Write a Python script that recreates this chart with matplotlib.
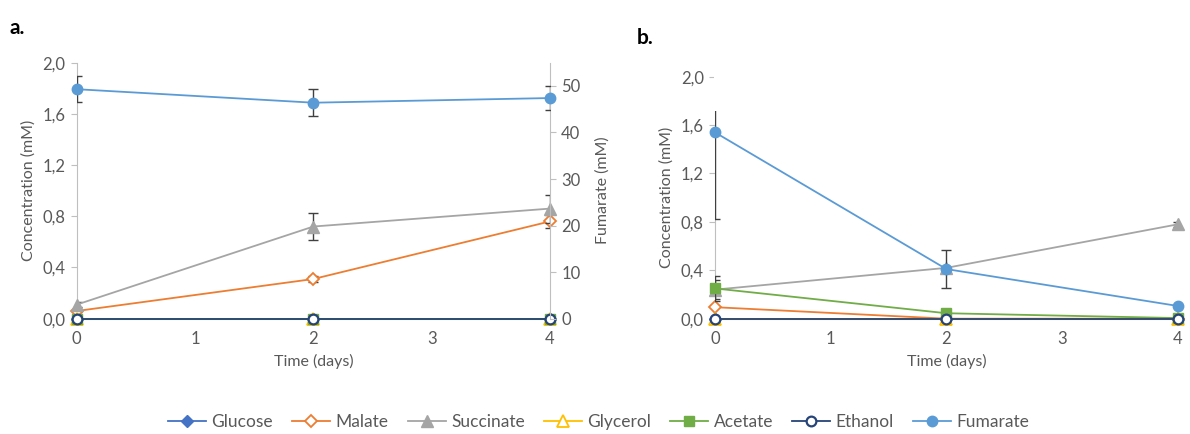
import matplotlib
matplotlib.use("Agg")
import matplotlib.pyplot as plt
from matplotlib.patches import Rectangle

plt.rcParams['font.family'] = ['Lato', 'DejaVu Sans']

days = [0, 2, 4]
series_names = ["Glucose", "Malate", "Succinate", "Glycerol", "Acetate", "Ethanol", "Fumarate"]

# Panel a (Fumarate on secondary axis)
a_glucose = [0.0, 0.0, 0.0]
a_malate = [0.06, 0.31, 0.76]
a_malate_err = [0.01, 0.02, 0.05]
a_succinate = [0.11, 0.72, 0.86]
a_succinate_err = [0.02, 0.105, 0.11]
a_glycerol = [0.0, 0.0, 0.0]
a_acetate = [0.0, 0.0, 0.0]
a_ethanol = [0.0, 0.0, 0.0]
a_fumarate = [49.3, 46.4, 47.4]
a_fumarate_err = [2.8, 2.9, 2.6]

# Panel b
b_glucose = [0.0, 0.0, 0.0]
b_malate = [0.095, 0.0, 0.0]
b_succinate = [0.24, 0.42, 0.78]
b_succinate_err = [0.08, 0.0, 0.02]
b_glycerol = [0.0, 0.0, 0.0]
b_acetate = [0.25, 0.045, 0.005]
b_acetate_err = [0.1, 0.0, 0.0]
b_ethanol = [0.0, 0.0, 0.0]
b_fumarate = [1.54, 0.41, 0.105]
b_fumarate_err = [0.72, 0.155, 0.0]

x_ticks = [0, 1, 2, 3, 4]
left_ticks = [0.0, 0.4, 0.8, 1.2, 1.6, 2.0]
right_ticks = [0, 10, 20, 30, 40, 50]

styles = {
    "Glucose": dict(color="#4472C4", marker="D", mfc="#4472C4", mec="#4472C4", ms=6),
    "Malate": dict(color="#ED7D31", marker="D", mfc="white", mec="#ED7D31", ms=6, mew=1.3),
    "Succinate": dict(color="#A5A5A5", marker="^", mfc="#A5A5A5", mec="#A5A5A5", ms=9),
    "Glycerol": dict(color="#FFC000", marker="^", mfc="white", mec="#FFC000", ms=8, mew=1.3),
    "Acetate": dict(color="#70AD47", marker="s", mfc="#70AD47", mec="#70AD47", ms=7),
    "Ethanol": dict(color="#264478", marker="o", mfc="white", mec="#264478", ms=7, mew=1.6),
    "Fumarate": dict(color="#5B9BD5", marker="o", mfc="#5B9BD5", mec="#5B9BD5", ms=7.5),
}

ERR_COLOR = "#404040"
TICK_COLOR = "#595959"
AXIS_COLOR = "#BFBFBF"
TICK_FS = 12
LABEL_FS = 11.5

fig = plt.figure(figsize=(11.9, 4.34), dpi=100)
ax_a = fig.add_axes([0.0645, 0.2657, 0.3977, 0.5899])
ax_b = fig.add_axes([0.6008, 0.2657, 0.389, 0.5576])


def plot_series(ax, name, y, err=None, z=3):
    st = dict(styles[name])
    color = st.pop("color")
    ax.plot(days, y, color=color, lw=1.3, clip_on=False, zorder=z, label=name, **st)
    if err is not None:
        ax.errorbar(days, y, yerr=err, fmt="none", ecolor=ERR_COLOR, elinewidth=1.0,
                    capsize=3.5, capthick=1.0, zorder=z - 0.5)


def style_axis(ax, ylim, yticks, labels):
    ax.set_xlim(0, 4)
    ax.set_ylim(*ylim)
    ax.set_xticks(x_ticks)
    ax.set_xticklabels([str(t) for t in x_ticks])
    ax.set_yticks(yticks)
    ax.set_yticklabels(labels)
    for s in ["top", "right"]:
        ax.spines[s].set_visible(False)
    ax.spines["left"].set_color(AXIS_COLOR)
    ax.spines["bottom"].set_color(AXIS_COLOR)
    ax.tick_params(axis="x", length=0, pad=9, labelsize=TICK_FS, labelcolor=TICK_COLOR)
    ax.tick_params(axis="y", length=4, color=AXIS_COLOR, pad=4, labelsize=TICK_FS, labelcolor=TICK_COLOR)
    ax.set_xlabel("Time (days)", fontsize=LABEL_FS, color=TICK_COLOR, labelpad=5)
    ax.set_ylabel("Concentration (mM)", fontsize=LABEL_FS, color=TICK_COLOR, labelpad=5)
    ax.patch.set_alpha(0)


left_labels = [f"{v:.1f}".replace(".", ",") for v in left_ticks]

# Panel a
style_axis(ax_a, (0, 2.0), left_ticks, left_labels)
plot_series(ax_a, "Glucose", a_glucose, z=3)
plot_series(ax_a, "Malate", a_malate, a_malate_err, z=4)
plot_series(ax_a, "Succinate", a_succinate, a_succinate_err, z=5)
plot_series(ax_a, "Glycerol", a_glycerol, z=6)
plot_series(ax_a, "Acetate", a_acetate, z=7)
plot_series(ax_a, "Ethanol", a_ethanol, z=8)

ax_a2 = ax_a.twinx()
ax_a2.set_ylim(0, 55)
ax_a2.set_yticks(right_ticks)
ax_a2.set_yticklabels([str(t) for t in right_ticks])
for s in ["top", "left", "bottom"]:
    ax_a2.spines[s].set_visible(False)
ax_a2.spines["right"].set_color(AXIS_COLOR)
ax_a2.tick_params(axis="y", length=4, color=AXIS_COLOR, pad=4, labelsize=TICK_FS, labelcolor=TICK_COLOR)
ax_a2.set_ylabel("Fumarate (mM)", fontsize=LABEL_FS, color=TICK_COLOR, labelpad=11)
plot_series(ax_a2, "Fumarate", a_fumarate, a_fumarate_err, z=9)

# Panel b
style_axis(ax_b, (0, 2.0), left_ticks, left_labels)
plot_series(ax_b, "Glucose", b_glucose, z=3)
plot_series(ax_b, "Malate", b_malate, z=4)
plot_series(ax_b, "Succinate", b_succinate, b_succinate_err, z=5)
plot_series(ax_b, "Glycerol", b_glycerol, z=6)
plot_series(ax_b, "Acetate", b_acetate, b_acetate_err, z=7)
plot_series(ax_b, "Ethanol", b_ethanol, z=8)
plot_series(ax_b, "Fumarate", b_fumarate, b_fumarate_err, z=9)
# white cover hiding the top part of the axis line (as in the reference)
ax_b.add_patch(Rectangle((-0.002, 1.715 / 2.0), 0.02, 1.0 - 1.715 / 2.0 + 0.02,
                         transform=ax_b.transAxes, facecolor="white", edgecolor="none",
                         zorder=20, clip_on=False))

# Panel letters
fig.text(0.008, 0.922, "a.", fontsize=15, fontweight="bold", color="black")
fig.text(0.535, 0.898, "b.", fontsize=15, fontweight="bold", color="black")

# Legend
handles = []
labels = []
for name in series_names:
    st = dict(styles[name])
    color = st.pop("color")
    h, = ax_b.plot([], [], color=color, lw=1.3, **st)
    handles.append(h)
    labels.append(name)
fig.legend(handles, labels, loc="center", bbox_to_anchor=(0.503, 0.028), ncol=7,
           frameon=False, fontsize=12.5, handlelength=2.2, handletextpad=0.3,
           columnspacing=1.1, labelcolor=TICK_COLOR)

fig.savefig("out.png", dpi=100)
